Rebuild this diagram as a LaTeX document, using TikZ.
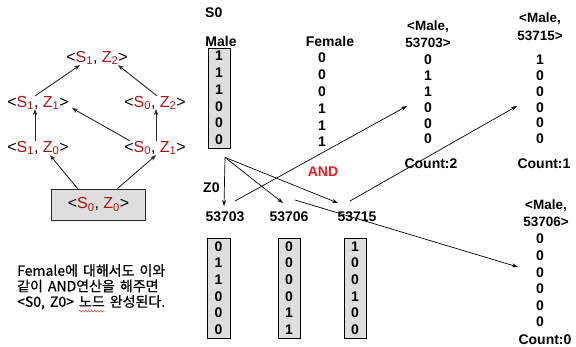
\documentclass[tikz,border=0pt]{standalone}
\usepackage{fontspec}
\setmainfont{Liberation Sans}
\newfontfamily\kr{Noto Sans CJK KR}[FakeBold=0.6]
\usetikzlibrary{arrows.meta,calc,decorations.pathmorphing}

\definecolor{latred}{RGB}{175,20,25}
\definecolor{andred}{RGB}{235,30,30}
\definecolor{boxgray}{RGB}{222,222,222}
\definecolor{lineg}{RGB}{40,40,40}
\definecolor{squigred}{RGB}{200,40,40}

% lattice label <S_a, Z_b>
\newcommand{\pairlab}[2]{<\textcolor{latred}{S\textsubscript{#1}}, \textcolor{latred}{Z\textsubscript{#2}}>}
% Korean note font with slightly wider word spaces
\newcommand{\notefont}{\kr\fontsize{14}{15.5}\selectfont\spaceskip=0.36em\relax}
\newlength{\sqstart}
\newlength{\sqlen}

\tikzset{
  lat/.style={font=\fontsize{16}{18}\selectfont, inner sep=1pt},
  latarrow/.style={draw=lineg, line width=0.9pt, -{Stealth[length=6pt,width=4.5pt]}},
  lbl/.style={font=\bfseries\fontsize{14}{16}\selectfont, inner sep=0pt},
  bits/.style={font=\bfseries\fontsize{14}{#1}\selectfont, align=center, inner sep=0pt},
  bitbox/.style={draw=black, line width=0.8pt, fill=boxgray, minimum width=22pt, minimum height=100pt},
  head/.style={font=\bfseries\fontsize{13.5}{17.5}\selectfont, align=center, inner sep=0pt},
  link/.style={draw=black, line width=0.7pt, -{Stealth[length=6pt,width=4pt]}},
}

\begin{document}
% where the word 노드 sits on the last line of the note
\settowidth{\sqstart}{\notefont <S0, Z0> }%
\settowidth{\sqlen}{\notefont 노드}%
\begin{tikzpicture}[x=1pt, y=-1pt]
\useasboundingbox (0,0) rectangle (576,347);

% ---- lattice of <S, Z> pairs ----
\node[lat] (s1z2) at (97,58) {\pairlab{1}{2}};
\node[lat] (s1z1) at (38,103) {\pairlab{1}{1}};
\node[lat] (s0z2) at (155,103) {\pairlab{0}{2}};
\node[lat] (s1z0) at (38,148) {\pairlab{1}{0}};
\node[lat] (s0z1) at (155,148) {\pairlab{0}{1}};
\node[lat, draw=lineg, line width=0.9pt, fill=boxgray, minimum width=94pt, minimum height=31pt]
  (s0z0) at (98.5,204.5) {\pairlab{0}{0}};

\draw[latarrow] ($(s1z1.north)+(-3,1)$) -- ($(s1z2.south)+(-17,-1)$);
\draw[latarrow] ($(s0z2.north)+(2,1)$) -- ($(s1z2.south)+(21,-1)$);
\draw[latarrow] ($(s1z0.north)+(-3,1)$) -- ($(s1z1.south)+(-3,-2)$);
\draw[latarrow] ($(s0z1.north)+(1,1)$) -- ($(s0z2.south)+(1,-2)$);
\draw[latarrow] ($(s0z1.north)+(-25,1)$) -- ($(s1z1.south)+(34,-3)$);
\draw[latarrow] ($(s0z0.north)+(-21,0)$) -- ($(s1z0.south)+(12,-1)$);
\draw[latarrow] ($(s0z0.north)+(19,0)$) -- ($(s0z1.south)+(1,-1)$);

% ---- S0 bit vectors ----
\node[lbl, anchor=west] (s0lab) at (205,13) {S0};
\node[lbl] (malelab) at (221,41) {Male};
\node[lbl] (femlab) at (330,41) {Female};
\node[bitbox, bits=16.8] (male) at (219,98) {1\\1\\1\\0\\0\\0};
\node[bits=16.8] (female) at (322,100) {0\\0\\0\\1\\1\\1};

% ---- Z0 bit vectors ----
\node[lbl, anchor=west] (z0lab) at (203,188) {Z0};
\node[lbl] (n703) at (225,217) {53703};
\node[lbl] (n706) at (289,217) {53706};
\node[lbl] (n715) at (357,217) {53715};
\node[bitbox, bits=16.6, minimum width=23pt] (b703) at (218.5,288) {0\\1\\1\\0\\0\\0};
\node[bitbox, bits=16.6, minimum width=22pt] (b706) at (289,288) {0\\0\\0\\0\\1\\1};
\node[bitbox, bits=16.6, minimum width=22pt] (b715) at (355,288) {1\\0\\0\\1\\0\\0};

\node[lbl, text=andred] (andlab) at (323,172) {AND};

% ---- results of Male AND Z0 value ----
\node[head] (h703) at (428,34) {<Male,\\53703>};
\node[bits=15.8] (m703) at (428,99.5) {0\\1\\1\\0\\0\\0};
\node[lbl] (c703) at (431,164) {Count:2};

\node[head] (h715) at (540,26.5) {<Male,\\53715>};
\node[bits=15.8] (m715) at (540,99.5) {1\\0\\0\\0\\0\\0};
\node[lbl] (c715) at (544,164) {Count:1};

\node[head] (h706) at (546,213) {<Male,\\53706>};
\node[bits=16.6] (m706) at (540,280.5) {0\\0\\0\\0\\0\\0};
\node[lbl] (c706) at (545,339.5) {Count:0};

% ---- connectors ----
\coordinate (split) at ($(male.south)+(6,9)$);
\draw[link] (split) -- ($(n703.center)+(-1,-11)$);
\draw[link] (split) -- ($(n706.center)+(-6,-14)$);
\draw[link] (split) -- ($(n715.center)+(-19,-14)$);

\draw[link] ($(n703.center)+(10,-16)$) -- ($(m703.center)+(-21,6.5)$);
\draw[link] ($(n715.center)+(-7,-16)$) -- ($(m715.center)+(-23,6.5)$);
\draw[link] ($(n706.center)+(6,-17)$) -- ($(m706.center)+(-22,-13.5)$);

% ---- note ----
\node[anchor=north west, align=left, inner sep=0pt, font=\notefont] (note) at (17,264)
  {Female에 대해서도 이와\\같이 AND연산을 해주면\\<S0, Z0> 노드 완성된다.};
% spell-check squiggle under the word 노드
\coordinate (sqa) at ([xshift=\sqstart, yshift=-1.5pt]note.south west);
\draw[squigred, line width=0.5pt,
      decorate, decoration={snake, amplitude=0.8pt, segment length=3pt}]
  (sqa) -- ([xshift=\sqlen]sqa);
\end{tikzpicture}
\end{document}
